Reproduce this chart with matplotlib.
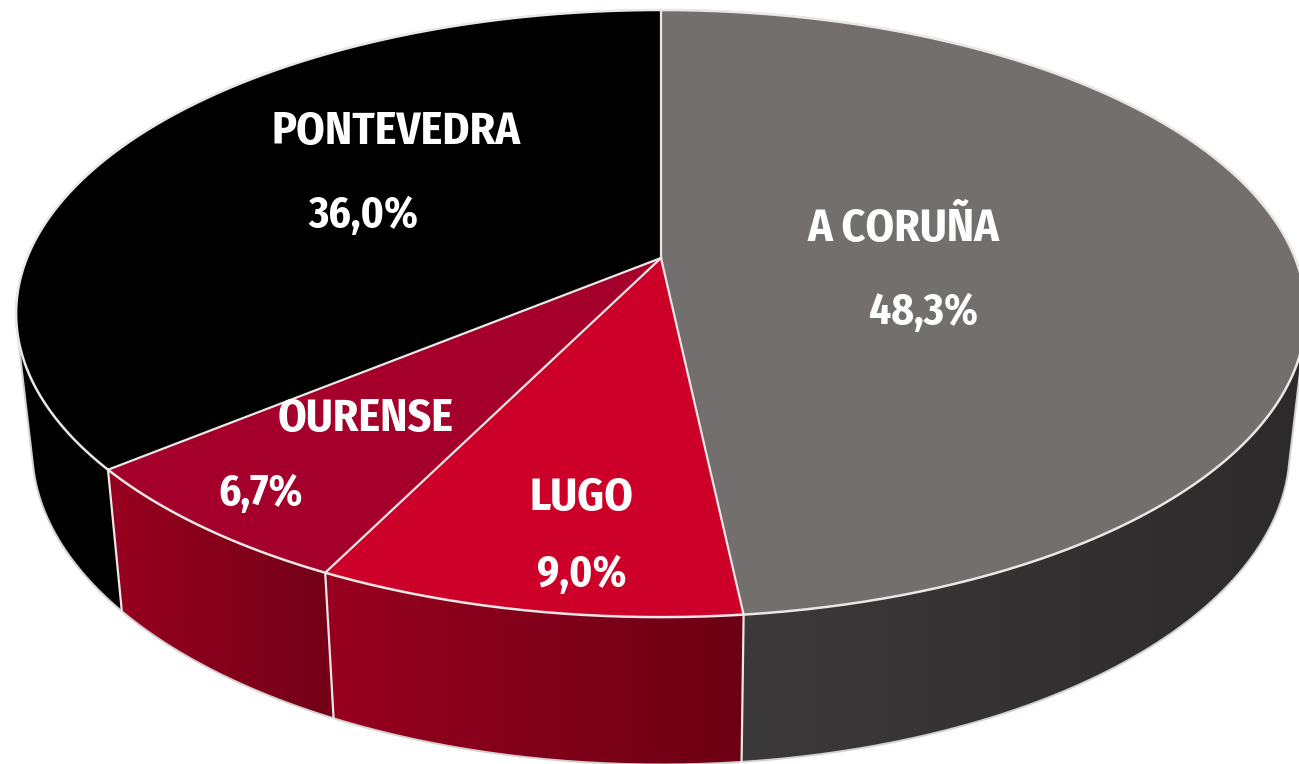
import numpy as np
import matplotlib
matplotlib.use("Agg")
import matplotlib.pyplot as plt
from matplotlib.colors import LinearSegmentedColormap
from matplotlib.patches import Polygon

provincias = ["A CORUÑA", "LUGO", "OURENSE", "PONTEVEDRA"]
porcentajes = [48.3, 9.0, 6.7, 36.0]
etiquetas = ["48,3%", "9,0%", "6,7%", "36,0%"]

color_top = ["#746f6f", "#cc0029", "#a5002b", "#000000"]
color_lado = [("#3d3b3c", "#2d2a2b"), ("#98001f", "#6c0014"), ("#98001f", "#730018"), ("#000000", "#000000")]
pos_nombre = [(904, 229), (582, 498), (366, 419), (396, 132)]
pos_valor = [(924, 313), (582, 575), (261, 494), (363, 216)]

# perspectiva del disco (pixeles)
cx, cy = 661, 258
a, b, k = 634, 293.4, 0.183
encoger = 0.975
alto, alto_k = 133, 0.04
borde = "#ece6e6"


def arriba(ang):
    w = 1 + k * np.cos(ang)
    return cx + a * np.sin(ang) / w, cy - b * np.cos(ang) / w


def abajo(ang):
    x, y = arriba(ang)
    return cx + (x - cx) * encoger, y + alto + alto_k * (y - cy)


def envolvente(puntos):
    pts = sorted(map(tuple, puntos))

    def media(seq):
        h = []
        for p in seq:
            while len(h) > 1 and (h[-1][0] - h[-2][0]) * (p[1] - h[-2][1]) - (h[-1][1] - h[-2][1]) * (p[0] - h[-2][0]) <= 0:
                h.pop()
            h.append(p)
        return h[:-1]

    return np.array(media(pts) + media(pts[::-1]))


fig = plt.figure(figsize=(12.99, 7.64), dpi=100)
ax = fig.add_axes([0, 0, 1, 1])
ax.axis("off")

cortes = np.radians(np.cumsum([0] + porcentajes) * 3.6)

# silueta del cilindro
ang = np.linspace(0, 2 * np.pi, 720)
x1, y1 = arriba(ang)
x2, y2 = abajo(ang)
hull = envolvente(np.r_[np.c_[x1, y1], np.c_[x2, y2]])
der = hull[hull[:, 0] >= cx]
izq = hull[hull[:, 0] <= cx]
ax.fill(der[:, 0], der[:, 1], color=color_lado[0][1], lw=0, zorder=0)
ax.fill(izq[:, 0], izq[:, 1], color=color_lado[3][1], lw=0, zorder=0)
ax.plot(np.r_[hull[:, 0], hull[0, 0]], np.r_[hull[:, 1], hull[0, 1]], color="#d4d0d0", lw=1.4, zorder=2)

# laterales
for i in [3, 0, 2, 1]:
    ang = np.linspace(cortes[i], cortes[i + 1], 300)
    x1, y1 = arriba(ang)
    x2, y2 = abajo(ang)
    xs = np.r_[x1, x2[::-1]]
    ys = np.r_[y1, y2[::-1]]
    cmap = LinearSegmentedColormap.from_list("lado", color_lado[i])
    im = ax.imshow(np.linspace(0, 1, 256).reshape(1, -1), cmap=cmap, aspect="auto",
                   extent=(xs.min(), xs.max(), ys.max(), ys.min()), zorder=1)
    poly = Polygon(np.c_[xs, ys], closed=True, fc="none", ec="none", transform=ax.transData)
    ax.add_patch(poly)
    im.set_clip_path(poly)

# aristas verticales
for c in cortes[1:-1]:
    ax.plot([arriba(c)[0], abajo(c)[0]], [arriba(c)[1], abajo(c)[1]], color=borde, lw=1.6, zorder=3)

# cara superior
for i in range(len(porcentajes)):
    ang = np.linspace(cortes[i], cortes[i + 1], 300)
    x1, y1 = arriba(ang)
    ax.fill(np.r_[cx, x1], np.r_[cy, y1], color=color_top[i], lw=0, zorder=4)

ang = np.linspace(0, 2 * np.pi, 720)
x1, y1 = arriba(ang)
ax.plot(x1, y1, color=borde, lw=1.8, zorder=5)
for c in cortes[:-1]:
    ax.plot([cx, arriba(c)[0]], [cy, arriba(c)[1]], color=borde, lw=1.6, zorder=5)

fuente = ["Fira Sans Condensed", "Barlow Condensed", "Liberation Sans Narrow", "Liberation Sans"]
for i in range(len(provincias)):
    ax.text(*pos_nombre[i], provincias[i], color="white", fontsize=33, fontweight="bold",
            family=fuente, ha="center", va="center", zorder=6)
    ax.text(*pos_valor[i], etiquetas[i], color="white", fontsize=31, fontweight="bold",
            family=fuente, ha="center", va="center", zorder=6)

ax.set_xlim(0, 1299)
ax.set_ylim(764, 0)
fig.savefig("out.png", dpi=100, facecolor="white")
